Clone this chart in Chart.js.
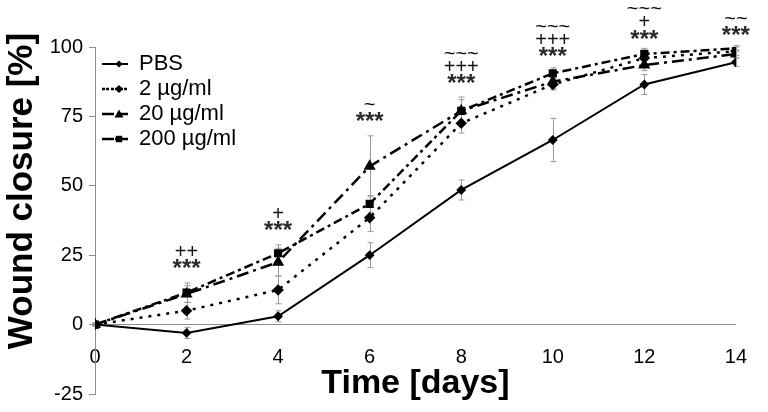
<!DOCTYPE html>
<html>
<head>
<meta charset="utf-8">
<title>Wound closure</title>
<script src="https://cdn.jsdelivr.net/npm/chart.js@4.4.0/dist/chart.umd.min.js"></script>
<style>
  html, body { margin: 0; padding: 0; background: #fff; }
</style>
</head>
<body>
<canvas id="woundChart" width="768" height="412"></canvas>
<script>
// Days after wounding
const days = [0, 2, 4, 6, 8, 10, 12, 14];

// Mean wound closure [%] per group
const pbs = [0, -3, 3, 25, 48.5, 66.5, 86.5, 94.5];
const ug2 = [0, 5, 12.5, 38.5, 72.5, 86.5, 96, 98.5];
const ug20 = [0, 11, 22.5, 57, 77, 87.5, 93.5, 97.5];
const ug200 = [0, 11.5, 25.7, 43.5, 77, 90.5, 97.5, 99.5];

// Error bar half-lengths
const pbsErr = [0.5, 2, 2, 4.5, 3.6, 7.8, 3.6, 1.5];
const ug2Err = [0.5, 3, 5, 5, 3.5, 2, 2, 1.5];
const ug20Err = [0.5, 3, 5, 11, 5, 2.5, 2, 1.5];
const ug200Err = [0.5, 3.5, 3, 3, 4, 2, 2, 1];

// Significance marks above each day (top line first)
const markDays = [2, 4, 6, 8, 10, 12, 14];
const markLines = [
    ['++', '***'],
    ['+', '***'],
    ['~', '***'],
    ['~~~', '+++', '***'],
    ['~~~', '+++', '***'],
    ['~~~', '+', '***'],
    ['~~', '***']
];
// y value where the lowest mark line sits
const markBase = [21.4, 35.1, 74.3, 88, 97.8, 104, 105.4];

const yTicks = [-25, 0, 25, 50, 75, 100];

const FONT = "'Liberation Sans', Arial, sans-serif";
const AXIS_GREY = '#8c8c8c';

const toPoints = (vals) => vals.map((v, i) => ({ x: days[i], y: v }));

const seriesErrors = [pbsErr, ug2Err, ug20Err, ug200Err];

// Draw a simple marker (used for legend samples)
function drawMarker(ctx, style, x, y, r) {
    ctx.beginPath();
    if (style === 'rectRot') {
        ctx.moveTo(x, y - r); ctx.lineTo(x + r, y); ctx.lineTo(x, y + r); ctx.lineTo(x - r, y);
    } else if (style === 'triangle') {
        ctx.moveTo(x, y - r); ctx.lineTo(x + r, y + r * 0.75); ctx.lineTo(x - r, y + r * 0.75);
    } else {
        ctx.rect(x - r * 0.8, y - r * 0.8, r * 1.6, r * 1.6);
    }
    ctx.closePath();
    ctx.fill();
}

const errorBars = {
    id: 'errorBars',
    beforeDatasetsDraw(chart) {
        const { ctx, scales: { x, y } } = chart;
        ctx.save();
        ctx.strokeStyle = '#9a9a9a';
        ctx.lineWidth = 1;
        chart.data.datasets.forEach((ds, i) => {
            const errs = seriesErrors[i];
            ds.data.forEach((p, j) => {
                const e = errs[j];
                const px = Math.round(x.getPixelForValue(p.x)) + 0.5;
                const top = y.getPixelForValue(p.y + e);
                const bot = y.getPixelForValue(p.y - e);
                ctx.beginPath();
                ctx.moveTo(px, top); ctx.lineTo(px, bot);
                ctx.moveTo(px - 3, top); ctx.lineTo(px + 3, top);
                ctx.moveTo(px - 3, bot); ctx.lineTo(px + 3, bot);
                ctx.stroke();
            });
        });
        ctx.restore();
    }
};

const marks = {
    id: 'marks',
    afterDraw(chart) {
        const { ctx, scales: { x, y } } = chart;
        ctx.save();
        ctx.textAlign = 'center';
        ctx.textBaseline = 'middle';
        markDays.forEach((d, i) => {
            const px = x.getPixelForValue(d);
            const base = y.getPixelForValue(markBase[i]);
            const lines = markLines[i];
            lines.forEach((txt, k) => {
                const py = base - (lines.length - 1 - k) * 13;
                if (txt.startsWith('*')) {
                    ctx.font = 'bold 24px ' + FONT;
                    ctx.fillStyle = '#2a2a2a';
                    ctx.fillText(txt, px, py + 4);
                } else {
                    ctx.font = '20px ' + FONT;
                    ctx.fillStyle = '#111';
                    ctx.fillText(txt, px, py);
                }
            });
        });
        ctx.restore();
    }
};

// Move the legend into the top-left corner of the plot
const legendPlace = {
    id: 'legendPlace',
    afterLayout(chart) {
        const legend = chart.legend;
        if (!legend) return;
        const dy = chart.chartArea.top + 3 - legend.top;
        legend.top += dy;
        legend.bottom += dy;
        legend.left += 4;
        legend.right += 4;
        (legend.legendHitBoxes || []).forEach(b => { b.top += dy; b.left += 4; });
    }
};

const extras = {
    id: 'extras',
    afterDraw(chart) {
        const ctx = chart.ctx;
        // legend markers on top of the line samples
        const legend = chart.legend;
        if (legend && legend.legendHitBoxes) {
            ctx.save();
            ctx.fillStyle = '#000';
            legend.legendHitBoxes.forEach((box, i) => {
                const ds = chart.data.datasets[i];
                drawMarker(ctx, ds.pointStyle, box.left + 13, box.top + box.height / 2, ds.pointRadius);
            });
            ctx.restore();
        }
        // y axis title
        ctx.save();
        ctx.translate(22, 191);
        ctx.rotate(-Math.PI / 2);
        ctx.font = 'bold 35px ' + FONT;
        ctx.fillStyle = '#000';
        ctx.textAlign = 'center';
        ctx.textBaseline = 'middle';
        ctx.fillText('Wound closure [%]', 0, 0);
        ctx.restore();
    }
};

new Chart(document.getElementById('woundChart'), {
    type: 'line',
    data: {
        datasets: [
            {
                label: 'PBS',
                data: toPoints(pbs),
                borderColor: '#000',
                backgroundColor: '#000',
                borderWidth: 2,
                pointStyle: 'rectRot',
                pointRadius: 3.5
            },
            {
                label: '2 µg/ml',
                data: toPoints(ug2),
                borderColor: '#000',
                backgroundColor: '#000',
                borderWidth: 2.5,
                borderDash: [3, 6],
                pointStyle: 'rectRot',
                pointRadius: 4
            },
            {
                label: '20 µg/ml',
                data: toPoints(ug20),
                borderColor: '#000',
                backgroundColor: '#000',
                borderWidth: 2.5,
                borderDash: [12, 5, 3, 5],
                pointStyle: 'triangle',
                pointRadius: 4.5
            },
            {
                label: '200 µg/ml',
                data: toPoints(ug200),
                borderColor: '#000',
                backgroundColor: '#000',
                borderWidth: 2.5,
                borderDash: [9, 4, 3, 4],
                pointStyle: 'rect',
                pointRadius: 4
            }
        ]
    },
    options: {
        responsive: false,
        animation: false,
        events: [],
        layout: {
            padding: { top: 47, right: 21, bottom: -60, left: 0 }
        },
        scales: {
            x: {
                type: 'linear',
                position: { y: 0 },
                min: 0,
                max: 14,
                afterFit(scale) { scale.height = 80; },
                border: { display: true, color: AXIS_GREY, width: 1 },
                grid: { display: true, drawOnChartArea: false, drawTicks: false },
                ticks: {
                    stepSize: 2,
                    padding: 21,
                    color: '#000',
                    font: { family: FONT, size: 20 }
                },
                title: {
                    display: true,
                    text: 'Time [days]',
                    color: '#000',
                    font: { family: FONT, size: 34, weight: 'bold' },
                    padding: { top: 0, bottom: 1 }
                }
            },
            y: {
                type: 'linear',
                position: 'left',
                min: -25,
                max: 100,
                afterFit(scale) { scale.width = 95; },
                afterBuildTicks(scale) { scale.ticks = yTicks.map(v => ({ value: v })); },
                border: { display: true, color: AXIS_GREY, width: 1 },
                grid: {
                    display: true,
                    drawOnChartArea: false,
                    drawTicks: true,
                    tickLength: 6,
                    tickColor: AXIS_GREY
                },
                ticks: {
                    padding: 6,
                    color: '#000',
                    font: { family: FONT, size: 20 }
                }
            }
        },
        plugins: {
            legend: {
                position: 'chartArea',
                align: 'start',
                labels: {
                    color: '#000',
                    font: { family: FONT, size: 22 },
                    boxWidth: 26,
                    boxHeight: 0,
                    padding: 3
                }
            },
            tooltip: { enabled: false }
        }
    },
    plugins: [legendPlace, errorBars, marks, extras]
});
</script>
</body>
</html>
